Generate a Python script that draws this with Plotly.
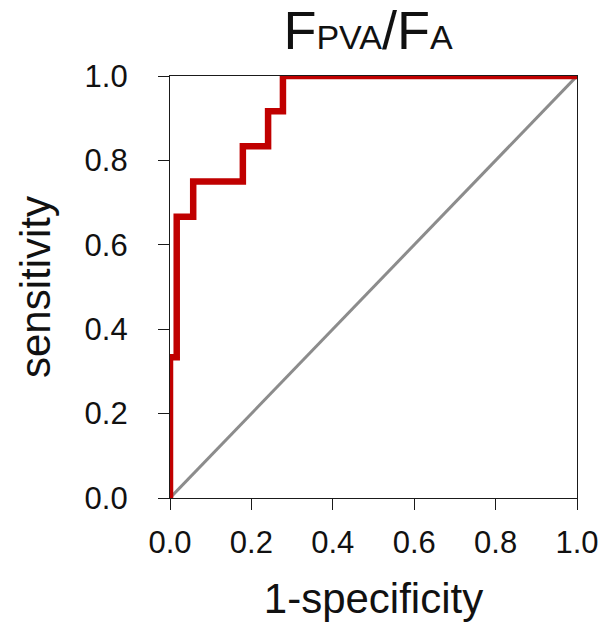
import plotly.graph_objects as go

# ROC operating points (false positive rate, true positive rate)
fpr = [0.0, 0.0, 0.0165, 0.057, 0.179, 0.241, 0.2775, 1.0]
tpr = [0.0, 1 / 3, 2 / 3, 0.75, 5 / 6, 11 / 12, 1.0, 1.0]

# chance line
ref_x = [0.0, 1.0]
ref_y = [0.0, 1.0]

tick_vals = [0.0, 0.2, 0.4, 0.6, 0.8, 1.0]
tick_text = ["0.0", "0.2", "0.4", "0.6", "0.8", "1.0"]

FONT = "Liberation Sans, Arial, sans-serif"

fig = go.Figure()
fig.add_trace(go.Scatter(
    x=ref_x, y=ref_y, mode="lines",
    line=dict(color="#8c8c8c", width=3),
    hoverinfo="skip", showlegend=False,
))
fig.add_trace(go.Scatter(
    x=fpr, y=tpr, mode="lines", line_shape="hv",
    line=dict(color="#c00000", width=6.5),
    showlegend=False,
))

axis_common = dict(
    range=[0, 1],
    tickvals=tick_vals,
    ticktext=tick_text,
    showgrid=False,
    zeroline=False,
    showline=True,
    linecolor="#1a1a1a",
    linewidth=1.3,
    mirror=True,
    ticks="outside",
    ticklen=11,
    tickwidth=1.3,
    tickcolor="#1a1a1a",
    tickfont=dict(family=FONT, size=31, color="#111111"),
)

fig.update_xaxes(
    **axis_common,
    ticklabelstandoff=6,
    title=dict(text="1-specificity", font=dict(family=FONT, size=42, color="#111111"), standoff=24),
)
fig.update_yaxes(
    **axis_common,
    ticklabelstandoff=24,
    title=dict(text="sensitivity", font=dict(family=FONT, size=42, color="#111111"), standoff=20),
)

fig.update_layout(
    width=614,
    height=630,
    margin=dict(l=170, r=37, t=76, b=132),
    paper_bgcolor="white",
    plot_bgcolor="white",
    title=dict(
        text="F<span style='font-size:34px'>PVA</span>/F<span style='font-size:34px'>A</span>",
        font=dict(family=FONT, size=54, color="#111111"),
        x=368 / 614, xanchor="center", xref="container",
        y=1 - 11 / 630, yanchor="top", yref="container",
    ),
)

fig.write_html("out.html")
